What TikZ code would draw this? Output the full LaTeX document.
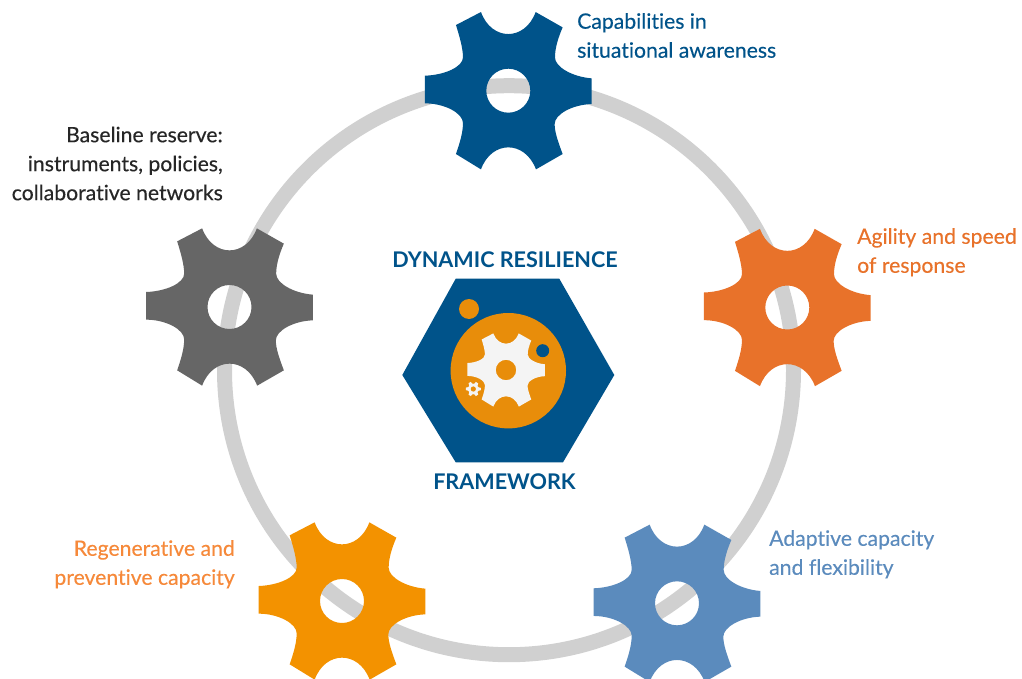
\documentclass[tikz,border=0pt]{standalone}
\usepackage{fontspec}
\setmainfont[Ligatures=NoCommon,FakeBold=0.25]{Lato}
\newfontfamily\headfont[Ligatures=NoCommon]{Lato}
\definecolor{navy}{HTML}{00538A}
\definecolor{rust}{HTML}{E8722A}
\definecolor{slate}{HTML}{666666}
\definecolor{amber}{HTML}{F39200}
\definecolor{peach}{HTML}{F6893A}
\definecolor{steel}{HTML}{5B8BBD}
\definecolor{disc}{HTML}{E88D0A}
\definecolor{ringgrey}{HTML}{D0D0D0}
\definecolor{paper}{HTML}{F4F4F4}
\tikzset{
  x=1pt,y=1pt,
  gear/.pic={
    \path[pic actions,even odd rule,x=0.33333pt,y=0.33333pt]
      (-82,236) .. controls (-50,148) and (50,148) .. (82,236)
      -- (163,190) .. controls (150,160) and (140,128) .. (140,100)
      .. controls (140,72) and (190,42) .. (250,37)
      -- (250,-40) .. controls (190,-42) and (139,-72) .. (139,-100)
      .. controls (139,-125) and (150,-155) .. (163,-190)
      -- (83,-236) .. controls (50,-148) and (-50,-148) .. (-82,-236)
      -- (-157,-190) .. controls (-145,-155) and (-136,-125) .. (-136,-97)
      .. controls (-136,-68) and (-190,-38) .. (-250,-38)
      -- (-250,45) .. controls (-190,47) and (-136,72) .. (-136,100)
      .. controls (-136,128) and (-147,165) .. (-157,197)
      -- cycle (0,0) circle[radius=66];
  },
  label/.style={font=\fontsize{21.2}{29}\selectfont,inner sep=0pt},
  heading/.style={font=\fontsize{21.6}{25}\headfont\bfseries,text=navy,inner sep=0pt}
}
\begin{document}
\begin{tikzpicture}
\useasboundingbox (0,0) rectangle (1022,-679);
\fill[white] (0,0) rectangle (1022,-679);
\draw[ringgrey,line width=15pt] (509,-370.2) circle[radius=284.5pt];
\pic[fill=navy] at (508.3,-90.7) {gear};
\pic[fill=rust] at (787.3,-307.5) {gear};
\pic[fill=steel] at (677,-603.3) {gear};
\pic[fill=amber] at (342,-601) {gear};
\pic[fill=slate] at (229.5,-307) {gear};
\fill[navy] (402.3,-375) -- (455.7,-278.7) -- (559.3,-278.7) -- (614.3,-375) -- (563,-462.3) -- (455.7,-462.3) -- cycle;
\fill[disc] (508.3,-370.7) circle[radius=57.7pt];
\fill[disc] (469,-309) circle[radius=10pt];
\pic[fill=paper,scale=0.465] at (506,-370) {gear};
\fill[navy] (542.7,-350.7) circle[radius=6.5pt];
\pic[fill=paper,scale=0.09] at (473.3,-389) {gear};
\fill[disc] (473.3,-389) circle[radius=2.6pt];
\node[label,text=navy,anchor=west,align=left] (situ) at (577,-35.5) {Capabilities in\\situational awareness};
\node[label,text=rust,anchor=west,align=left] (agil) at (857,-252.3) {Agility and speed\\of response};
\node[label,text=steel,anchor=west,align=left] (adap) at (769,-554.3) {Adaptive capacity\\and flexibility};
\node[label,text=peach,anchor=east,align=right] (rege) at (235,-564.3) {Regenerative and\\preventive capacity};
\node[label,text=black!85,anchor=east,align=right] (base) at (223,-163.5) {Baseline reserve:\\instruments, policies,\\collaborative networks};
\node[heading] (dyn) at (505,-260) {DYNAMIC RESILIENCE};
\node[heading] (fra) at (504.5,-482) {FRAMEWORK};
\end{tikzpicture}
\end{document}
